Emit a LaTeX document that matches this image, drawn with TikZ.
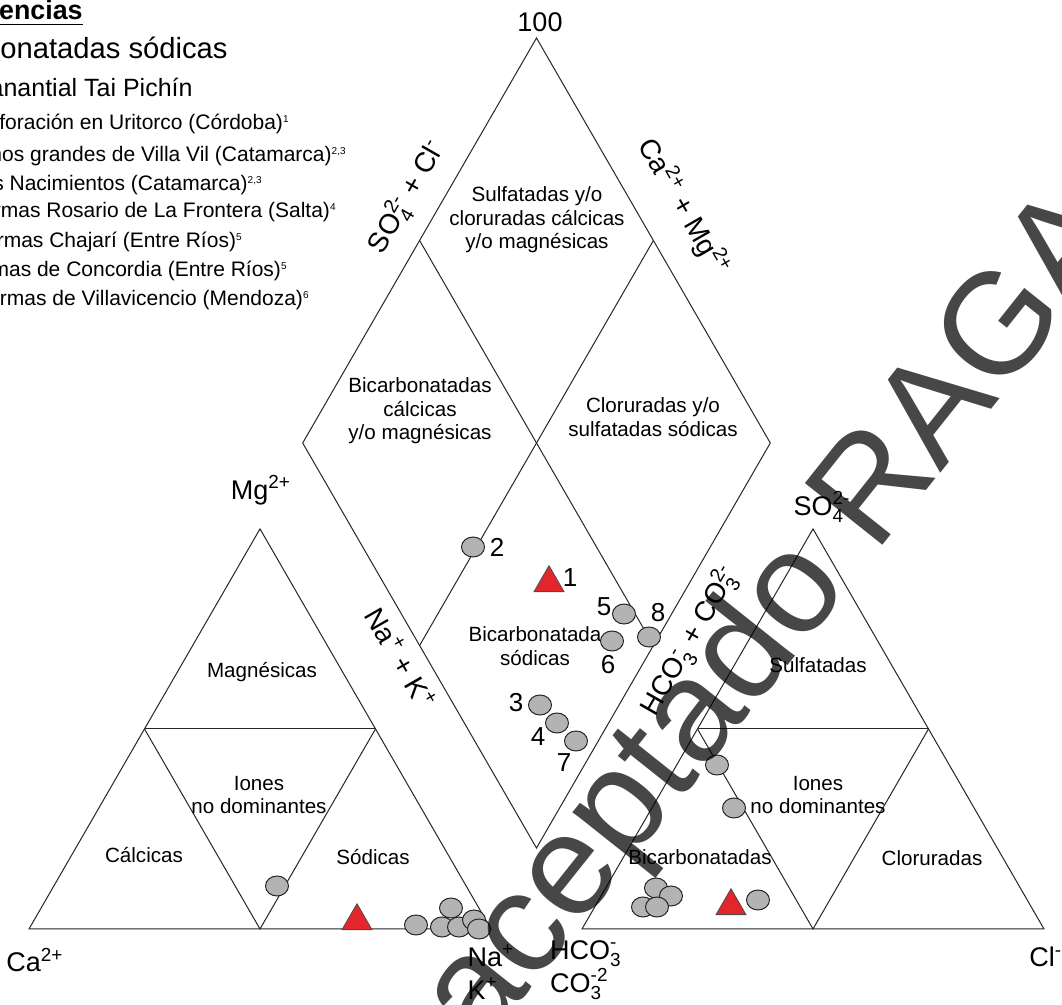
\documentclass[tikz,border=0pt]{standalone}
\usepackage{fontspec}
\setmainfont{Liberation Sans}
\usepackage{amsmath}
\usetikzlibrary{shapes.geometric, calc}

\definecolor{ptred}{HTML}{E3262B}
\definecolor{ptgray}{HTML}{B3B3B3}

\newcommand{\ion}[2]{$_{\text{#1}}^{\text{#2}}$}
\newcommand{\chg}[1]{$^{\text{#1}}$}
\newcommand{\refn}[1]{\textsuperscript{\fontsize{5}{5}\selectfont #1}}

\begin{document}
\begin{tikzpicture}[x=0.5pt, y=-0.5pt,
        % Styles
        edge/.style={draw=black!85, line width=0.5pt},
        field/.style={font=\fontsize{10.3}{11.7}\selectfont, align=center, inner sep=0pt},
        axis/.style={font=\fontsize{13.5}{16.5}\selectfont, inner sep=0pt},
        sidelab/.style={font=\fontsize{14}{16}\selectfont, inner sep=0pt},
        sample/.style={ellipse, draw=black!85, fill=ptgray, line width=0.5pt,
                minimum width=11.5pt, minimum height=10pt, inner sep=0pt},
        spring/.style={regular polygon, regular polygon sides=3, draw=black!70, fill=ptred,
                line width=0.4pt, minimum size=17.3pt, inner sep=0pt},
        num/.style={font=\fontsize{13}{13}\selectfont, inner sep=0pt},
        legend/.style={anchor=base east, inner sep=0pt},
    ]

    \useasboundingbox (0,0) rectangle (1062,1005);

    % === VERTICES ===
    \coordinate (Ca) at (29,929);
    \coordinate (NaK) at (491,929);
    \coordinate (Mg) at (260,528.9);
    \coordinate (HC) at (582,929);
    \coordinate (Cl) at (1044,929);
    \coordinate (SO) at (813,528.9);
    \coordinate (dtop) at (536.5,38);
    \coordinate (dbot) at (536.5,848);
    \coordinate (dleft) at (302.7,443);
    \coordinate (dright) at (770.3,443);

    % midpoints
    \coordinate (lmL) at ($(Ca)!0.5!(Mg)$);
    \coordinate (lmR) at ($(NaK)!0.5!(Mg)$);
    \coordinate (lmB) at ($(Ca)!0.5!(NaK)$);
    \coordinate (rmL) at ($(HC)!0.5!(SO)$);
    \coordinate (rmR) at ($(Cl)!0.5!(SO)$);
    \coordinate (rmB) at ($(HC)!0.5!(Cl)$);
    \coordinate (dUL) at ($(dtop)!0.5!(dleft)$);
    \coordinate (dUR) at ($(dtop)!0.5!(dright)$);
    \coordinate (dLL) at ($(dbot)!0.5!(dleft)$);
    \coordinate (dLR) at ($(dbot)!0.5!(dright)$);

    % === CATION TRIANGLE ===
    \draw[edge] (Ca) -- (NaK) -- (Mg) -- cycle;
    \draw[edge] (lmL) -- (lmR);
    \draw[edge] (lmL) -- (lmB) -- (lmR);

    % === ANION TRIANGLE ===
    \draw[edge] (HC) -- (Cl) -- (SO) -- cycle;
    \draw[edge] (rmL) -- (rmR);
    \draw[edge] (rmL) -- (rmB) -- (rmR);

    % === DIAMOND ===
    \draw[edge] (dtop) -- (dright) -- (dbot) -- (dleft) -- cycle;
    \draw[edge] (dUL) -- (dLR);
    \draw[edge] (dUR) -- (dLL);

    % === LEGEND ===
    \node[legend, font=\fontsize{13.4}{14}\selectfont\bfseries] (leghead) at (83,20) {\underline{Referencias}};
    \node[legend, font=\fontsize{14.6}{15}\selectfont] (leggroup) at (228,59) {Bicarbonatadas sódicas};
    \node[legend, font=\fontsize{12.5}{13}\selectfont] (leg1) at (193,97) {Manantial Tai Pichín};
    \node[legend, font=\fontsize{10.5}{11}\selectfont] (leg2) at (290,130) {Perforación en Uritorco (Córdoba)\refn{1}};
    \node[legend, font=\fontsize{10.5}{11}\selectfont] (leg3) at (347,162) {Baños grandes de Villa Vil (Catamarca)\refn{2,3}};
    \node[legend, font=\fontsize{10.5}{11}\selectfont] (leg4) at (263,191) {Los Nacimientos (Catamarca)\refn{2,3}};
    \node[legend, font=\fontsize{10.5}{11}\selectfont] (leg5) at (337,218) {Termas Rosario de La Frontera (Salta)\refn{4}};
    \node[legend, font=\fontsize{10.5}{11}\selectfont] (leg6) at (243,248) {Termas Chajarí (Entre Ríos)\refn{5}};
    \node[legend, font=\fontsize{10.5}{11}\selectfont] (leg7) at (288,277) {Termas de Concordia (Entre Ríos)\refn{5}};
    \node[legend, font=\fontsize{10.5}{11}\selectfont] (leg8) at (310,306) {Termas de Villavicencio (Mendoza)\refn{6}};

    % === FIELD LABELS ===
    \node[field] (fSC) at (537,220) {Sulfatadas y/o\\cloruradas cálcicas\\y/o magnésicas};
    \node[field] (fBC) at (420,411) {Bicarbonatadas\\cálcicas\\y/o magnésicas};
    \node[field] (fCS) at (653,417) {Cloruradas y/o\\sulfatadas sódicas};
    \node[field] (fBS) at (535,646) {Bicarbonatada\\sódicas};
    \node[field] (fMg) at (262,672) {Magnésicas};
    \node[field] (fIonL) at (259,795) {Iones\\no dominantes};
    \node[field] (fCa) at (144,855) {Cálcicas};
    \node[field] (fNa) at (373,857) {Sódicas};
    \node[field] (fSO) at (818,665) {Sulfatadas};
    \node[field] (fIonR) at (818,795) {Iones\\no dominantes};
    \node[field] (fHC) at (700,857) {Bicarbonatadas};
    \node[field] (fCl) at (932,858) {Cloruradas};

    % === AXIS LABELS ===
    \node[axis] (lab100) at (540,22) {100};
    \node[axis] (labMg) at (261,490) {Mg\chg{2+}};
    \node[axis] (labCa) at (35,960) {Ca\chg{2+}};
    \node[axis, align=left] (labNaK) at (491,972) {Na\chg{+}\\K\chg{+}};
    \node[axis, align=left] (labHC) at (586,970) {HCO\ion{3}{-}\\CO\ion{3}{-2}};
    \node[axis, anchor=west] (labCl) at (1029,957) {Cl\chg{-}};
    \node[axis] (labSO) at (822,507) {SO\ion{4}{2-}};

    \node[sidelab, rotate=60] (sideSC) at (407,197) {SO\ion{4}{2-} + Cl\chg{-}};
    \node[sidelab, rotate=-60] (sideCM) at (684,207) {Ca\chg{2+} + Mg\chg{2+}};
    \node[sidelab, rotate=-60] (sideNK) at (401,658) {Na\chg{+} + K\chg{+}};
    \node[sidelab, rotate=60] (sideHC) at (690,641) {HCO\ion{3}{-} + CO\ion{3}{2-}};

    % === SAMPLES: DIAMOND ===
    \node[spring] (d1) at (549,583) {};
    \node[sample] (d2) at (473,547) {};
    \node[sample] (d5) at (624,614) {};
    \node[sample] (d8) at (649,637) {};
    \node[sample] (d6) at (612,641) {};
    \node[sample] (d3) at (540,705) {};
    \node[sample] (d4) at (557,723) {};
    \node[sample] (d7) at (576,741) {};
    \node[num] (n1) at (570,578) {1};
    \node[num] (n2) at (497,547) {2};
    \node[num] (n5) at (604,607) {5};
    \node[num] (n8) at (658,613) {8};
    \node[num] (n6) at (608,665) {6};
    \node[num] (n3) at (516,703) {3};
    \node[num] (n4) at (538,737) {4};
    \node[num] (n7) at (564,763) {7};

    % === SAMPLES: CATIONS ===
    \node[sample] (c1) at (277,886) {};
    \node[spring] (c0) at (357,921) {};
    \node[sample] (c2) at (416,925) {};
    \node[sample] (c3) at (451,908) {};
    \node[sample] (c4) at (442,927) {};
    \node[sample] (c5) at (459,927) {};
    \node[sample] (c6) at (474,920) {};
    \node[sample] (c7) at (479,929) {};

    % === SAMPLES: ANIONS ===
    \node[sample] (a1) at (717,765) {};
    \node[sample] (a2) at (734,808) {};
    \node[sample] (a3) at (656,888) {};
    \node[sample] (a4) at (671,896) {};
    \node[sample] (a5) at (643,907) {};
    \node[sample] (a6) at (657,907) {};
    \node[spring] (a0) at (731,906) {};
    \node[sample] (a7) at (758,900) {};

    % === STAMP ===
    \node[font=\fontsize{72}{72}\selectfont, text=black, text opacity=0.72, rotate=51.5,
        inner sep=0pt] (stamp) at (777,619) {aceptado RAGA};

\end{tikzpicture}
\end{document}
